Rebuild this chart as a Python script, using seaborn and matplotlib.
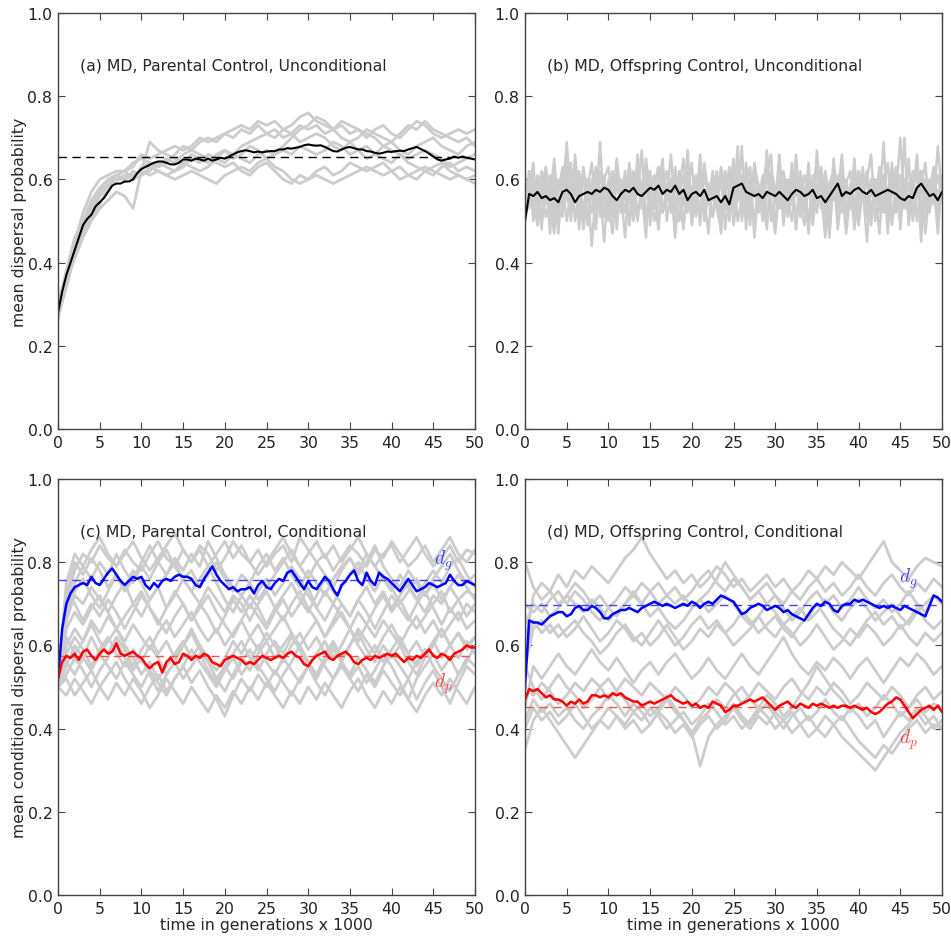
import numpy as np
import pandas as pd
import matplotlib
matplotlib.use("Agg")
import matplotlib.pyplot as plt
import seaborn as sns

# ---- data (time in generations x 1000, 0..50) ----
a_mean = [0.28, 0.33, 0.37, 0.40, 0.43, 0.46, 0.49, 0.505, 0.515, 0.535, 0.545, 0.555, 0.57, 0.585, 0.59, 0.59,
          0.595, 0.595, 0.60, 0.615, 0.625, 0.63, 0.635, 0.64, 0.643, 0.643, 0.64, 0.636, 0.636, 0.64, 0.648,
          0.648, 0.645, 0.65, 0.648, 0.645, 0.65, 0.645, 0.648, 0.652, 0.65, 0.655, 0.66, 0.665, 0.668, 0.67,
          0.668, 0.665, 0.667, 0.665, 0.667, 0.668, 0.668, 0.672, 0.672, 0.675, 0.674, 0.676, 0.678, 0.682,
          0.684, 0.682, 0.681, 0.682, 0.678, 0.673, 0.668, 0.667, 0.672, 0.676, 0.678, 0.675, 0.672, 0.672,
          0.668, 0.667, 0.664, 0.662, 0.664, 0.667, 0.666, 0.668, 0.669, 0.668, 0.672, 0.675, 0.678, 0.673,
          0.668, 0.662, 0.655, 0.648, 0.645, 0.648, 0.65, 0.655, 0.652, 0.655, 0.652, 0.65, 0.648]
a_reps = [
    [0.28, 0.38, 0.45, 0.52, 0.57, 0.60, 0.61, 0.62, 0.62, 0.63, 0.66, 0.65, 0.66, 0.67, 0.68, 0.67, 0.68, 0.70, 0.69, 0.70, 0.71, 0.72, 0.73, 0.72, 0.74, 0.73, 0.74, 0.72, 0.73, 0.75, 0.76, 0.74, 0.73, 0.72, 0.73, 0.71, 0.72, 0.70, 0.72, 0.73, 0.71, 0.70, 0.72, 0.74, 0.73, 0.71, 0.70, 0.71, 0.72, 0.71, 0.72],
    [0.27, 0.35, 0.41, 0.46, 0.50, 0.53, 0.55, 0.57, 0.56, 0.53, 0.62, 0.69, 0.67, 0.66, 0.65, 0.64, 0.66, 0.65, 0.64, 0.66, 0.67, 0.66, 0.68, 0.69, 0.70, 0.71, 0.70, 0.72, 0.71, 0.73, 0.72, 0.73, 0.71, 0.72, 0.74, 0.73, 0.72, 0.71, 0.70, 0.68, 0.67, 0.66, 0.65, 0.66, 0.67, 0.66, 0.65, 0.63, 0.64, 0.65, 0.66],
    [0.26, 0.36, 0.43, 0.49, 0.53, 0.56, 0.59, 0.60, 0.60, 0.61, 0.62, 0.61, 0.62, 0.61, 0.60, 0.61, 0.62, 0.61, 0.60, 0.59, 0.61, 0.62, 0.63, 0.62, 0.64, 0.65, 0.63, 0.62, 0.60, 0.59, 0.60, 0.61, 0.60, 0.59, 0.60, 0.61, 0.62, 0.63, 0.62, 0.61, 0.62, 0.60, 0.61, 0.62, 0.63, 0.62, 0.61, 0.60, 0.61, 0.60, 0.59],
    [0.30, 0.38, 0.46, 0.50, 0.55, 0.58, 0.60, 0.61, 0.62, 0.60, 0.63, 0.64, 0.63, 0.65, 0.64, 0.66, 0.67, 0.66, 0.65, 0.64, 0.63, 0.64, 0.62, 0.61, 0.63, 0.64, 0.62, 0.60, 0.59, 0.61, 0.60, 0.62, 0.63, 0.61, 0.62, 0.64, 0.63, 0.62, 0.63, 0.64, 0.62, 0.63, 0.61, 0.60, 0.62, 0.61, 0.63, 0.64, 0.62, 0.63, 0.62],
    [0.29, 0.37, 0.44, 0.48, 0.52, 0.56, 0.59, 0.61, 0.62, 0.64, 0.65, 0.64, 0.63, 0.64, 0.66, 0.68, 0.67, 0.69, 0.70, 0.69, 0.71, 0.70, 0.72, 0.71, 0.73, 0.71, 0.72, 0.70, 0.71, 0.69, 0.70, 0.71, 0.70, 0.68, 0.67, 0.69, 0.70, 0.72, 0.71, 0.70, 0.69, 0.71, 0.73, 0.72, 0.74, 0.72, 0.71, 0.70, 0.69, 0.70, 0.68],
    [0.27, 0.34, 0.42, 0.47, 0.51, 0.54, 0.58, 0.60, 0.61, 0.60, 0.61, 0.62, 0.64, 0.63, 0.62, 0.64, 0.63, 0.62, 0.63, 0.65, 0.64, 0.66, 0.65, 0.64, 0.66, 0.67, 0.66, 0.68, 0.70, 0.72, 0.73, 0.75, 0.74, 0.72, 0.70, 0.69, 0.67, 0.68, 0.66, 0.65, 0.64, 0.66, 0.64, 0.63, 0.62, 0.63, 0.64, 0.62, 0.61, 0.60, 0.61],
    [0.28, 0.36, 0.44, 0.50, 0.54, 0.57, 0.60, 0.61, 0.60, 0.62, 0.61, 0.63, 0.62, 0.61, 0.62, 0.63, 0.65, 0.64, 0.66, 0.65, 0.67, 0.65, 0.66, 0.68, 0.67, 0.65, 0.66, 0.67, 0.66, 0.68, 0.67, 0.66, 0.67, 0.69, 0.68, 0.66, 0.67, 0.65, 0.66, 0.68, 0.69, 0.67, 0.66, 0.68, 0.69, 0.70, 0.68, 0.67, 0.66, 0.68, 0.69],
]
a_eq = 0.655

b_mean = [0.50, 0.565, 0.56, 0.57, 0.555, 0.56, 0.55, 0.555, 0.545, 0.57, 0.575, 0.565, 0.545, 0.56, 0.565, 0.57,
          0.565, 0.575, 0.57, 0.58, 0.575, 0.56, 0.55, 0.565, 0.575, 0.57, 0.58, 0.565, 0.56, 0.57, 0.58, 0.575,
          0.585, 0.565, 0.575, 0.57, 0.585, 0.565, 0.575, 0.55, 0.565, 0.57, 0.56, 0.575, 0.55, 0.555, 0.56,
          0.545, 0.56, 0.54, 0.58, 0.585, 0.59, 0.57, 0.565, 0.56, 0.565, 0.555, 0.57, 0.565, 0.56, 0.57, 0.56,
          0.55, 0.565, 0.575, 0.57, 0.56, 0.565, 0.575, 0.555, 0.56, 0.545, 0.56, 0.575, 0.59, 0.56, 0.57, 0.565,
          0.575, 0.58, 0.57, 0.565, 0.575, 0.56, 0.565, 0.57, 0.575, 0.57, 0.565, 0.555, 0.55, 0.56, 0.555, 0.58,
          0.59, 0.575, 0.56, 0.565, 0.55, 0.57]
b_reps = [
    [0.55, 0.62, 0.50, 0.60, 0.48, 0.63, 0.52, 0.58, 0.47, 0.61, 0.55, 0.64, 0.50, 0.57, 0.62, 0.49, 0.60, 0.53, 0.69, 0.51, 0.58, 0.62, 0.48, 0.60, 0.55, 0.63, 0.50, 0.61, 0.57, 0.46, 0.62, 0.54, 0.59, 0.65, 0.50, 0.58, 0.52, 0.62, 0.49, 0.57, 0.64, 0.51, 0.60, 0.55, 0.47, 0.61, 0.53, 0.63, 0.58, 0.50, 0.62, 0.55, 0.68, 0.48, 0.57, 0.61, 0.52, 0.59, 0.64, 0.50, 0.56, 0.62, 0.49, 0.60, 0.54, 0.66, 0.51, 0.58, 0.47, 0.61, 0.55, 0.63, 0.52, 0.59, 0.62, 0.48, 0.57, 0.60, 0.53, 0.65, 0.50, 0.58, 0.62, 0.49, 0.60, 0.55, 0.69, 0.51, 0.57, 0.63, 0.48, 0.60, 0.54, 0.62, 0.50, 0.58, 0.64, 0.52, 0.59, 0.47, 0.61],
    [0.52, 0.58, 0.64, 0.49, 0.56, 0.61, 0.47, 0.62, 0.55, 0.51, 0.66, 0.53, 0.60, 0.48, 0.63, 0.56, 0.52, 0.61, 0.57, 0.45, 0.60, 0.54, 0.65, 0.52, 0.59, 0.49, 0.62, 0.56, 0.67, 0.50, 0.57, 0.61, 0.48, 0.63, 0.55, 0.60, 0.46, 0.58, 0.65, 0.52, 0.57, 0.61, 0.49, 0.64, 0.56, 0.51, 0.60, 0.47, 0.62, 0.57, 0.53, 0.68, 0.50, 0.59, 0.63, 0.46, 0.58, 0.54, 0.61, 0.66, 0.49, 0.57, 0.60, 0.52, 0.64, 0.48, 0.59, 0.55, 0.62, 0.50, 0.67, 0.53, 0.58, 0.46, 0.61, 0.56, 0.63, 0.51, 0.59, 0.48, 0.62, 0.55, 0.60, 0.66, 0.50, 0.57, 0.61, 0.47, 0.63, 0.56, 0.52, 0.70, 0.49, 0.58, 0.62, 0.45, 0.60, 0.55, 0.63, 0.51, 0.58],
    [0.50, 0.56, 0.53, 0.61, 0.58, 0.51, 0.55, 0.65, 0.53, 0.59, 0.50, 0.57, 0.62, 0.54, 0.49, 0.60, 0.56, 0.63, 0.51, 0.58, 0.55, 0.47, 0.61, 0.57, 0.52, 0.64, 0.56, 0.50, 0.59, 0.62, 0.53, 0.57, 0.48, 0.61, 0.55, 0.66, 0.52, 0.58, 0.54, 0.61, 0.49, 0.56, 0.63, 0.53, 0.59, 0.51, 0.57, 0.62, 0.48, 0.58, 0.55, 0.61, 0.52, 0.64, 0.56, 0.50, 0.59, 0.55, 0.48, 0.62, 0.57, 0.53, 0.60, 0.51, 0.56, 0.63, 0.54, 0.49, 0.59, 0.57, 0.52, 0.61, 0.56, 0.50, 0.65, 0.55, 0.52, 0.59, 0.62, 0.54, 0.49, 0.58, 0.60, 0.53, 0.57, 0.47, 0.61, 0.55, 0.64, 0.52, 0.57, 0.60, 0.51, 0.56, 0.66, 0.53, 0.49, 0.59, 0.56, 0.61, 0.55],
    [0.54, 0.60, 0.57, 0.52, 0.59, 0.55, 0.61, 0.50, 0.57, 0.63, 0.56, 0.52, 0.59, 0.55, 0.61, 0.58, 0.44, 0.57, 0.52, 0.60, 0.63, 0.55, 0.51, 0.58, 0.60, 0.56, 0.52, 0.62, 0.55, 0.59, 0.51, 0.57, 0.63, 0.52, 0.58, 0.55, 0.60, 0.50, 0.57, 0.62, 0.54, 0.58, 0.52, 0.61, 0.56, 0.59, 0.54, 0.60, 0.57, 0.51, 0.59, 0.62, 0.55, 0.52, 0.60, 0.57, 0.54, 0.61, 0.50, 0.58, 0.55, 0.62, 0.57, 0.53, 0.59, 0.56, 0.61, 0.52, 0.58, 0.55, 0.62, 0.57, 0.46, 0.59, 0.55, 0.61, 0.53, 0.58, 0.56, 0.63, 0.52, 0.59, 0.55, 0.60, 0.57, 0.52, 0.61, 0.56, 0.58, 0.54, 0.61, 0.57, 0.52, 0.59, 0.56, 0.62, 0.53, 0.58, 0.60, 0.55, 0.57],
    [0.57, 0.53, 0.59, 0.56, 0.62, 0.54, 0.58, 0.52, 0.60, 0.56, 0.69, 0.55, 0.61, 0.57, 0.53, 0.59, 0.55, 0.62, 0.54, 0.58, 0.56, 0.60, 0.53, 0.57, 0.61, 0.55, 0.59, 0.52, 0.58, 0.60, 0.56, 0.53, 0.59, 0.57, 0.62, 0.54, 0.58, 0.56, 0.61, 0.53, 0.58, 0.55, 0.60, 0.57, 0.54, 0.62, 0.56, 0.59, 0.53, 0.57, 0.61, 0.55, 0.58, 0.54, 0.60, 0.57, 0.53, 0.59, 0.56, 0.62, 0.58, 0.53, 0.57, 0.60, 0.55, 0.58, 0.54, 0.61, 0.57, 0.53, 0.59, 0.56, 0.62, 0.55, 0.58, 0.52, 0.60, 0.57, 0.54, 0.59, 0.56, 0.61, 0.54, 0.58, 0.55, 0.60, 0.53, 0.57, 0.61, 0.56, 0.70, 0.55, 0.59, 0.53, 0.57, 0.62, 0.56, 0.54, 0.59, 0.57, 0.58],
    [0.53, 0.60, 0.55, 0.49, 0.58, 0.63, 0.54, 0.47, 0.59, 0.56, 0.61, 0.50, 0.66, 0.55, 0.52, 0.60, 0.57, 0.48, 0.62, 0.55, 0.59, 0.51, 0.64, 0.57, 0.46, 0.60, 0.53, 0.66, 0.55, 0.61, 0.49, 0.58, 0.63, 0.52, 0.56, 0.60, 0.47, 0.59, 0.54, 0.67, 0.51, 0.58, 0.62, 0.50, 0.56, 0.60, 0.53, 0.48, 0.61, 0.57, 0.65, 0.50, 0.55, 0.60, 0.49, 0.63, 0.56, 0.52, 0.67, 0.54, 0.47, 0.59, 0.62, 0.55, 0.50, 0.61, 0.57, 0.53, 0.64, 0.49, 0.58, 0.55, 0.61, 0.47, 0.60, 0.56, 0.66, 0.52, 0.57, 0.50, 0.62, 0.58, 0.45, 0.60, 0.55, 0.63, 0.52, 0.58, 0.49, 0.61, 0.56, 0.53, 0.65, 0.50, 0.58, 0.62, 0.47, 0.57, 0.63, 0.54, 0.60],
    [0.51, 0.57, 0.61, 0.54, 0.50, 0.60, 0.56, 0.63, 0.51, 0.55, 0.59, 0.52, 0.57, 0.62, 0.48, 0.58, 0.64, 0.53, 0.56, 0.61, 0.50, 0.57, 0.59, 0.54, 0.62, 0.49, 0.56, 0.60, 0.53, 0.65, 0.57, 0.50, 0.55, 0.61, 0.58, 0.52, 0.63, 0.56, 0.48, 0.60, 0.57, 0.53, 0.66, 0.52, 0.59, 0.55, 0.62, 0.51, 0.56, 0.63, 0.49, 0.57, 0.61, 0.55, 0.52, 0.64, 0.58, 0.50, 0.56, 0.61, 0.54, 0.66, 0.52, 0.57, 0.60, 0.48, 0.62, 0.56, 0.51, 0.58, 0.64, 0.54, 0.50, 0.57, 0.62, 0.53, 0.59, 0.47, 0.56, 0.61, 0.55, 0.63, 0.51, 0.57, 0.60, 0.53, 0.58, 0.64, 0.50, 0.55, 0.61, 0.56, 0.52, 0.59, 0.63, 0.49, 0.57, 0.60, 0.54, 0.68, 0.56],
]

c_dg_mean = [0.52, 0.64, 0.70, 0.725, 0.74, 0.745, 0.75, 0.745, 0.765, 0.75, 0.745, 0.76, 0.775, 0.785, 0.77, 0.755,
             0.745, 0.755, 0.765, 0.76, 0.765, 0.745, 0.735, 0.75, 0.74, 0.755, 0.76, 0.755, 0.765, 0.77, 0.765,
             0.765, 0.76, 0.745, 0.74, 0.76, 0.775, 0.79, 0.77, 0.755, 0.745, 0.735, 0.74, 0.73, 0.735, 0.735,
             0.74, 0.725, 0.745, 0.755, 0.74, 0.735, 0.75, 0.76, 0.755, 0.775, 0.78, 0.765, 0.75, 0.735, 0.755,
             0.74, 0.735, 0.75, 0.765, 0.755, 0.735, 0.72, 0.745, 0.755, 0.77, 0.78, 0.755, 0.745, 0.775, 0.755,
             0.745, 0.775, 0.765, 0.76, 0.75, 0.74, 0.73, 0.745, 0.76, 0.745, 0.73, 0.735, 0.74, 0.75, 0.745,
             0.74, 0.745, 0.75, 0.77, 0.755, 0.745, 0.745, 0.755, 0.75, 0.745]
c_dp_mean = [0.52, 0.56, 0.575, 0.57, 0.58, 0.565, 0.585, 0.59, 0.575, 0.565, 0.58, 0.59, 0.58, 0.585, 0.605, 0.58,
             0.575, 0.58, 0.585, 0.575, 0.57, 0.555, 0.545, 0.555, 0.56, 0.535, 0.56, 0.57, 0.555, 0.56, 0.58,
             0.575, 0.565, 0.575, 0.57, 0.58, 0.575, 0.56, 0.555, 0.55, 0.565, 0.57, 0.575, 0.57, 0.565, 0.555,
             0.56, 0.555, 0.565, 0.575, 0.57, 0.565, 0.57, 0.575, 0.57, 0.58, 0.585, 0.575, 0.57, 0.555, 0.55,
             0.565, 0.575, 0.58, 0.585, 0.57, 0.565, 0.575, 0.58, 0.585, 0.575, 0.56, 0.555, 0.565, 0.57, 0.565,
             0.575, 0.57, 0.575, 0.58, 0.575, 0.58, 0.57, 0.56, 0.57, 0.565, 0.575, 0.57, 0.58, 0.59, 0.575, 0.57,
             0.58, 0.575, 0.565, 0.58, 0.585, 0.59, 0.60, 0.595, 0.595]
c_dg_reps = [
    [0.50, 0.70, 0.78, 0.82, 0.80, 0.84, 0.81, 0.79, 0.83, 0.80, 0.78, 0.82, 0.85, 0.81, 0.79, 0.83, 0.80, 0.84, 0.82, 0.78, 0.81, 0.85, 0.82, 0.80, 0.83, 0.79, 0.82, 0.84, 0.80, 0.86, 0.83, 0.80, 0.82, 0.78, 0.81, 0.84, 0.82, 0.79, 0.83, 0.81, 0.85, 0.82, 0.79, 0.81, 0.84, 0.80, 0.83, 0.86, 0.82, 0.80, 0.83],
    [0.50, 0.66, 0.72, 0.70, 0.74, 0.71, 0.68, 0.72, 0.75, 0.70, 0.67, 0.71, 0.74, 0.69, 0.72, 0.76, 0.73, 0.70, 0.74, 0.71, 0.68, 0.72, 0.70, 0.66, 0.70, 0.73, 0.69, 0.72, 0.75, 0.71, 0.68, 0.72, 0.76, 0.73, 0.70, 0.67, 0.71, 0.74, 0.70, 0.73, 0.69, 0.72, 0.75, 0.71, 0.68, 0.72, 0.70, 0.74, 0.71, 0.73, 0.72],
    [0.50, 0.68, 0.75, 0.79, 0.76, 0.80, 0.77, 0.82, 0.78, 0.75, 0.79, 0.76, 0.80, 0.83, 0.79, 0.76, 0.78, 0.74, 0.77, 0.80, 0.76, 0.73, 0.77, 0.75, 0.79, 0.82, 0.78, 0.81, 0.77, 0.74, 0.78, 0.75, 0.72, 0.76, 0.79, 0.81, 0.77, 0.80, 0.84, 0.79, 0.76, 0.74, 0.78, 0.75, 0.72, 0.76, 0.79, 0.82, 0.78, 0.75, 0.77],
    [0.50, 0.64, 0.68, 0.65, 0.69, 0.72, 0.68, 0.64, 0.67, 0.70, 0.73, 0.69, 0.66, 0.63, 0.67, 0.70, 0.66, 0.69, 0.72, 0.68, 0.65, 0.62, 0.66, 0.70, 0.67, 0.64, 0.68, 0.71, 0.67, 0.70, 0.74, 0.69, 0.66, 0.70, 0.67, 0.64, 0.68, 0.65, 0.69, 0.72, 0.68, 0.71, 0.67, 0.64, 0.67, 0.70, 0.73, 0.68, 0.71, 0.67, 0.70],
    [0.50, 0.72, 0.80, 0.77, 0.81, 0.78, 0.74, 0.77, 0.73, 0.76, 0.80, 0.84, 0.80, 0.77, 0.81, 0.78, 0.82, 0.79, 0.85, 0.81, 0.77, 0.74, 0.72, 0.75, 0.71, 0.74, 0.77, 0.80, 0.83, 0.79, 0.76, 0.80, 0.77, 0.74, 0.78, 0.81, 0.78, 0.82, 0.79, 0.76, 0.73, 0.77, 0.74, 0.71, 0.75, 0.78, 0.75, 0.79, 0.81, 0.77, 0.74],
    [0.50, 0.67, 0.73, 0.76, 0.72, 0.69, 0.73, 0.77, 0.74, 0.78, 0.75, 0.71, 0.74, 0.77, 0.80, 0.76, 0.73, 0.76, 0.79, 0.75, 0.71, 0.68, 0.72, 0.69, 0.73, 0.76, 0.72, 0.75, 0.79, 0.76, 0.72, 0.69, 0.73, 0.70, 0.74, 0.77, 0.80, 0.76, 0.73, 0.77, 0.74, 0.70, 0.73, 0.76, 0.72, 0.75, 0.71, 0.74, 0.77, 0.74, 0.71],
    [0.50, 0.74, 0.70, 0.66, 0.70, 0.67, 0.71, 0.68, 0.64, 0.68, 0.72, 0.69, 0.65, 0.69, 0.73, 0.70, 0.66, 0.70, 0.67, 0.63, 0.67, 0.71, 0.68, 0.72, 0.69, 0.65, 0.69, 0.66, 0.70, 0.73, 0.69, 0.66, 0.62, 0.66, 0.70, 0.67, 0.71, 0.68, 0.64, 0.68, 0.72, 0.69, 0.66, 0.70, 0.73, 0.69, 0.65, 0.69, 0.66, 0.70, 0.68],
    [0.50, 0.75, 0.82, 0.79, 0.83, 0.86, 0.82, 0.79, 0.82, 0.85, 0.81, 0.78, 0.81, 0.84, 0.87, 0.83, 0.80, 0.83, 0.79, 0.82, 0.85, 0.81, 0.84, 0.80, 0.77, 0.80, 0.83, 0.86, 0.82, 0.79, 0.82, 0.85, 0.81, 0.84, 0.80, 0.83, 0.86, 0.82, 0.79, 0.82, 0.84, 0.80, 0.83, 0.86, 0.82, 0.79, 0.81, 0.84, 0.80, 0.83, 0.82],
]
c_dp_reps = [
    [0.50, 0.55, 0.60, 0.57, 0.62, 0.58, 0.61, 0.64, 0.60, 0.57, 0.53, 0.56, 0.52, 0.55, 0.58, 0.61, 0.57, 0.60, 0.56, 0.52, 0.49, 0.53, 0.57, 0.54, 0.58, 0.61, 0.57, 0.60, 0.63, 0.59, 0.55, 0.58, 0.61, 0.57, 0.60, 0.64, 0.60, 0.57, 0.60, 0.56, 0.59, 0.62, 0.58, 0.55, 0.58, 0.61, 0.57, 0.60, 0.63, 0.60, 0.62],
    [0.50, 0.52, 0.48, 0.51, 0.54, 0.50, 0.53, 0.56, 0.52, 0.49, 0.46, 0.50, 0.53, 0.49, 0.52, 0.55, 0.51, 0.54, 0.50, 0.47, 0.43, 0.48, 0.52, 0.49, 0.53, 0.50, 0.54, 0.51, 0.48, 0.52, 0.55, 0.51, 0.48, 0.52, 0.55, 0.52, 0.49, 0.53, 0.50, 0.54, 0.51, 0.48, 0.52, 0.47, 0.51, 0.54, 0.50, 0.46, 0.51, 0.55, 0.53],
    [0.50, 0.60, 0.64, 0.61, 0.66, 0.63, 0.67, 0.64, 0.61, 0.65, 0.62, 0.59, 0.63, 0.66, 0.62, 0.65, 0.68, 0.64, 0.61, 0.64, 0.60, 0.63, 0.66, 0.62, 0.65, 0.61, 0.64, 0.67, 0.63, 0.60, 0.63, 0.66, 0.62, 0.65, 0.68, 0.64, 0.61, 0.65, 0.62, 0.66, 0.63, 0.60, 0.64, 0.67, 0.63, 0.66, 0.62, 0.65, 0.68, 0.64, 0.66],
    [0.50, 0.56, 0.53, 0.57, 0.54, 0.58, 0.55, 0.52, 0.56, 0.53, 0.50, 0.54, 0.51, 0.48, 0.52, 0.55, 0.59, 0.56, 0.53, 0.50, 0.54, 0.57, 0.53, 0.56, 0.60, 0.56, 0.53, 0.57, 0.54, 0.51, 0.55, 0.58, 0.55, 0.52, 0.56, 0.53, 0.57, 0.54, 0.51, 0.55, 0.58, 0.55, 0.52, 0.56, 0.59, 0.55, 0.52, 0.49, 0.53, 0.57, 0.55],
    [0.50, 0.58, 0.62, 0.59, 0.55, 0.59, 0.62, 0.58, 0.55, 0.59, 0.56, 0.60, 0.57, 0.53, 0.56, 0.60, 0.63, 0.59, 0.56, 0.52, 0.55, 0.58, 0.61, 0.57, 0.54, 0.58, 0.61, 0.58, 0.62, 0.59, 0.56, 0.52, 0.56, 0.59, 0.56, 0.60, 0.63, 0.59, 0.56, 0.60, 0.57, 0.60, 0.56, 0.53, 0.57, 0.60, 0.64, 0.60, 0.57, 0.61, 0.58],
    [0.50, 0.53, 0.57, 0.54, 0.50, 0.54, 0.57, 0.61, 0.57, 0.54, 0.57, 0.53, 0.49, 0.53, 0.56, 0.52, 0.55, 0.58, 0.54, 0.51, 0.55, 0.52, 0.56, 0.59, 0.55, 0.52, 0.49, 0.53, 0.56, 0.60, 0.56, 0.53, 0.57, 0.60, 0.56, 0.52, 0.55, 0.51, 0.54, 0.58, 0.55, 0.51, 0.47, 0.52, 0.55, 0.58, 0.54, 0.57, 0.53, 0.56, 0.60],
    [0.50, 0.62, 0.58, 0.61, 0.65, 0.61, 0.58, 0.62, 0.59, 0.55, 0.59, 0.62, 0.58, 0.61, 0.57, 0.60, 0.64, 0.60, 0.57, 0.54, 0.57, 0.61, 0.58, 0.62, 0.59, 0.63, 0.60, 0.56, 0.60, 0.63, 0.59, 0.62, 0.58, 0.61, 0.57, 0.60, 0.64, 0.61, 0.58, 0.62, 0.65, 0.61, 0.58, 0.61, 0.57, 0.61, 0.64, 0.60, 0.63, 0.59, 0.62],
    [0.50, 0.48, 0.52, 0.49, 0.46, 0.50, 0.47, 0.51, 0.48, 0.52, 0.49, 0.45, 0.48, 0.52, 0.49, 0.46, 0.50, 0.47, 0.44, 0.48, 0.45, 0.49, 0.46, 0.50, 0.47, 0.51, 0.48, 0.45, 0.49, 0.46, 0.50, 0.47, 0.51, 0.48, 0.45, 0.49, 0.52, 0.48, 0.45, 0.49, 0.46, 0.50, 0.47, 0.44, 0.48, 0.51, 0.48, 0.52, 0.49, 0.46, 0.50],
]
c_dg_eq, c_dp_eq = 0.757, 0.575

d_dg_mean = [0.50, 0.66, 0.655, 0.655, 0.65, 0.66, 0.67, 0.675, 0.68, 0.68, 0.67, 0.675, 0.69, 0.695, 0.685, 0.685,
             0.695, 0.69, 0.68, 0.665, 0.665, 0.675, 0.68, 0.685, 0.685, 0.69, 0.685, 0.68, 0.69, 0.695, 0.70,
             0.705, 0.70, 0.695, 0.70, 0.695, 0.69, 0.695, 0.70, 0.695, 0.705, 0.70, 0.69, 0.70, 0.705, 0.70, 0.71,
             0.72, 0.715, 0.71, 0.705, 0.69, 0.675, 0.68, 0.69, 0.695, 0.70, 0.695, 0.685, 0.69, 0.695, 0.69, 0.68,
             0.685, 0.675, 0.67, 0.665, 0.66, 0.675, 0.69, 0.70, 0.695, 0.705, 0.70, 0.685, 0.68, 0.695, 0.70, 0.70,
             0.71, 0.705, 0.71, 0.705, 0.70, 0.695, 0.69, 0.695, 0.69, 0.695, 0.69, 0.685, 0.695, 0.69, 0.685, 0.68,
             0.675, 0.67, 0.695, 0.72, 0.715, 0.705]
d_dp_mean = [0.47, 0.495, 0.49, 0.495, 0.485, 0.475, 0.48, 0.47, 0.47, 0.465, 0.455, 0.465, 0.46, 0.47, 0.46, 0.465,
             0.48, 0.48, 0.475, 0.48, 0.475, 0.485, 0.48, 0.485, 0.475, 0.47, 0.465, 0.465, 0.455, 0.46, 0.465,
             0.46, 0.465, 0.47, 0.475, 0.48, 0.47, 0.465, 0.46, 0.465, 0.455, 0.46, 0.45, 0.455, 0.45, 0.465, 0.46,
             0.455, 0.44, 0.445, 0.455, 0.455, 0.46, 0.465, 0.47, 0.465, 0.47, 0.475, 0.465, 0.455, 0.445, 0.455,
             0.46, 0.465, 0.455, 0.45, 0.46, 0.455, 0.45, 0.46, 0.455, 0.46, 0.455, 0.45, 0.455, 0.45, 0.455, 0.455,
             0.45, 0.455, 0.45, 0.445, 0.45, 0.44, 0.435, 0.44, 0.45, 0.46, 0.465, 0.475, 0.47, 0.455, 0.44, 0.425,
             0.435, 0.445, 0.45, 0.455, 0.445, 0.455, 0.44]
d_dg_reps = [
    [0.60, 0.72, 0.75, 0.73, 0.77, 0.74, 0.78, 0.76, 0.79, 0.77, 0.75, 0.78, 0.81, 0.83, 0.86, 0.82, 0.79, 0.76, 0.78, 0.75, 0.77, 0.74, 0.76, 0.79, 0.77, 0.74, 0.76, 0.73, 0.75, 0.77, 0.74, 0.76, 0.73, 0.75, 0.78, 0.76, 0.79, 0.77, 0.80, 0.78, 0.76, 0.79, 0.82, 0.85, 0.80, 0.78, 0.76, 0.79, 0.81, 0.80, 0.79],
    [0.80, 0.74, 0.71, 0.73, 0.70, 0.72, 0.75, 0.73, 0.70, 0.72, 0.69, 0.71, 0.74, 0.72, 0.75, 0.73, 0.70, 0.72, 0.74, 0.71, 0.73, 0.76, 0.78, 0.75, 0.73, 0.76, 0.74, 0.71, 0.73, 0.75, 0.72, 0.70, 0.73, 0.71, 0.74, 0.76, 0.73, 0.75, 0.72, 0.74, 0.77, 0.74, 0.72, 0.75, 0.77, 0.74, 0.72, 0.75, 0.73, 0.76, 0.74],
    [0.55, 0.64, 0.66, 0.63, 0.65, 0.62, 0.64, 0.67, 0.64, 0.61, 0.63, 0.66, 0.64, 0.61, 0.63, 0.60, 0.62, 0.65, 0.62, 0.59, 0.61, 0.64, 0.62, 0.65, 0.63, 0.60, 0.62, 0.64, 0.67, 0.64, 0.62, 0.65, 0.63, 0.60, 0.62, 0.65, 0.62, 0.59, 0.61, 0.64, 0.62, 0.65, 0.63, 0.60, 0.62, 0.65, 0.62, 0.60, 0.63, 0.61, 0.63],
    [0.70, 0.68, 0.70, 0.67, 0.69, 0.72, 0.70, 0.68, 0.71, 0.69, 0.66, 0.68, 0.70, 0.73, 0.70, 0.67, 0.69, 0.66, 0.64, 0.66, 0.69, 0.71, 0.68, 0.70, 0.72, 0.70, 0.67, 0.65, 0.67, 0.70, 0.68, 0.65, 0.67, 0.69, 0.66, 0.68, 0.71, 0.68, 0.66, 0.69, 0.71, 0.69, 0.66, 0.68, 0.70, 0.67, 0.65, 0.68, 0.70, 0.72, 0.70],
    [0.65, 0.70, 0.68, 0.71, 0.73, 0.70, 0.73, 0.71, 0.68, 0.66, 0.69, 0.67, 0.70, 0.72, 0.70, 0.73, 0.75, 0.72, 0.70, 0.72, 0.69, 0.71, 0.73, 0.76, 0.80, 0.77, 0.74, 0.71, 0.73, 0.70, 0.72, 0.69, 0.66, 0.68, 0.71, 0.73, 0.70, 0.72, 0.69, 0.71, 0.74, 0.71, 0.69, 0.71, 0.68, 0.70, 0.73, 0.70, 0.68, 0.72, 0.70],
    [0.58, 0.66, 0.63, 0.65, 0.62, 0.64, 0.66, 0.63, 0.61, 0.58, 0.60, 0.63, 0.65, 0.62, 0.60, 0.63, 0.66, 0.63, 0.60, 0.62, 0.65, 0.67, 0.64, 0.66, 0.63, 0.65, 0.68, 0.66, 0.63, 0.65, 0.67, 0.64, 0.62, 0.65, 0.67, 0.70, 0.67, 0.64, 0.62, 0.60, 0.63, 0.66, 0.68, 0.65, 0.67, 0.64, 0.66, 0.69, 0.66, 0.64, 0.66],
]
d_dp_reps = [
    [0.45, 0.55, 0.52, 0.55, 0.58, 0.55, 0.53, 0.56, 0.59, 0.56, 0.54, 0.57, 0.54, 0.51, 0.54, 0.56, 0.53, 0.56, 0.58, 0.55, 0.52, 0.54, 0.57, 0.54, 0.52, 0.55, 0.58, 0.55, 0.53, 0.56, 0.59, 0.62, 0.58, 0.55, 0.53, 0.56, 0.54, 0.57, 0.55, 0.52, 0.55, 0.57, 0.54, 0.51, 0.54, 0.57, 0.55, 0.58, 0.56, 0.53, 0.55],
    [0.40, 0.45, 0.42, 0.44, 0.41, 0.43, 0.46, 0.43, 0.40, 0.42, 0.45, 0.43, 0.40, 0.42, 0.39, 0.41, 0.44, 0.42, 0.39, 0.41, 0.38, 0.41, 0.43, 0.40, 0.42, 0.45, 0.42, 0.40, 0.43, 0.41, 0.44, 0.42, 0.39, 0.41, 0.43, 0.40, 0.38, 0.41, 0.43, 0.40, 0.37, 0.35, 0.33, 0.36, 0.34, 0.37, 0.40, 0.42, 0.39, 0.41, 0.40],
    [0.35, 0.42, 0.45, 0.42, 0.39, 0.36, 0.33, 0.36, 0.39, 0.42, 0.40, 0.43, 0.41, 0.44, 0.42, 0.45, 0.43, 0.40, 0.42, 0.44, 0.41, 0.43, 0.46, 0.44, 0.41, 0.43, 0.40, 0.42, 0.45, 0.43, 0.40, 0.42, 0.44, 0.41, 0.38, 0.40, 0.43, 0.41, 0.38, 0.36, 0.34, 0.32, 0.30, 0.33, 0.36, 0.39, 0.41, 0.44, 0.41, 0.43, 0.40],
    [0.50, 0.48, 0.51, 0.49, 0.46, 0.48, 0.51, 0.49, 0.52, 0.50, 0.47, 0.49, 0.52, 0.50, 0.48, 0.51, 0.49, 0.47, 0.50, 0.48, 0.45, 0.47, 0.50, 0.48, 0.51, 0.49, 0.46, 0.48, 0.51, 0.49, 0.47, 0.50, 0.52, 0.49, 0.47, 0.50, 0.48, 0.51, 0.49, 0.46, 0.48, 0.51, 0.49, 0.47, 0.50, 0.48, 0.45, 0.48, 0.50, 0.47, 0.49],
    [0.55, 0.50, 0.47, 0.50, 0.53, 0.50, 0.48, 0.45, 0.47, 0.50, 0.52, 0.49, 0.47, 0.44, 0.46, 0.43, 0.45, 0.48, 0.45, 0.42, 0.39, 0.42, 0.44, 0.47, 0.45, 0.48, 0.50, 0.47, 0.45, 0.48, 0.46, 0.43, 0.45, 0.48, 0.51, 0.55, 0.52, 0.49, 0.47, 0.44, 0.46, 0.43, 0.45, 0.48, 0.46, 0.43, 0.45, 0.47, 0.44, 0.46, 0.45],
    [0.42, 0.47, 0.44, 0.46, 0.43, 0.45, 0.42, 0.40, 0.43, 0.45, 0.48, 0.46, 0.43, 0.46, 0.44, 0.41, 0.44, 0.47, 0.44, 0.42, 0.39, 0.31, 0.38, 0.41, 0.43, 0.46, 0.43, 0.41, 0.44, 0.46, 0.43, 0.40, 0.43, 0.45, 0.42, 0.44, 0.47, 0.44, 0.42, 0.45, 0.43, 0.40, 0.42, 0.38, 0.41, 0.44, 0.42, 0.45, 0.43, 0.40, 0.42],
]
d_dg_eq, d_dp_eq = 0.697, 0.453

titles = ["(a) MD, Parental Control, Unconditional", "(b) MD, Offspring Control, Unconditional",
          "(c) MD, Parental Control, Conditional", "(d) MD, Offspring Control, Conditional"]

GRAY = "#cccccc"
FS = 11.3

sns.set_style("ticks")
plt.rcParams.update({
    "font.family": ["DejaVu Sans"],
    "xtick.direction": "in", "ytick.direction": "in",
    "xtick.top": True, "ytick.right": True,
    "xtick.major.size": 5, "ytick.major.size": 5,
    "xtick.major.pad": 4, "ytick.major.pad": 4,
    "axes.edgecolor": "#444444", "axes.linewidth": 1.0,
    "xtick.color": "#444444", "ytick.color": "#444444",
    "xtick.labelcolor": "#222222", "ytick.labelcolor": "#222222",
    "xtick.labelsize": FS, "ytick.labelsize": FS,
})


def series(vals, rep=0):
    return pd.DataFrame({"t": np.linspace(0, 50, len(vals)), "v": vals, "rep": rep})


def reps_df(reps):
    return pd.concat([series(r, i) for i, r in enumerate(reps)], ignore_index=True)


def draw_reps(ax, reps, lw=2.0):
    sns.lineplot(data=reps_df(reps), x="t", y="v", units="rep", estimator=None,
                 color=GRAY, lw=lw, ax=ax, legend=False)


def draw_mean(ax, vals, color, lw=1.6):
    sns.lineplot(data=series(vals), x="t", y="v", color=color, lw=lw, ax=ax, legend=False)


fig = plt.figure(figsize=(9.51, 9.37), dpi=100)
W, H = 417 / 951, 416 / 937
axs = [fig.add_axes([58 / 951, 1 - 430 / 937, W, H]),
       fig.add_axes([525 / 951, 1 - 430 / 937, W, H]),
       fig.add_axes([58 / 951, 1 - 896 / 937, W, H]),
       fig.add_axes([525 / 951, 1 - 896 / 937, W, H])]

# (a)
ax = axs[0]
draw_reps(ax, a_reps)
ax.axhline(a_eq, color="black", lw=1.0, dashes=(6, 4))
draw_mean(ax, a_mean, "black", lw=1.5)

# (b)
ax = axs[1]
draw_reps(ax, b_reps, lw=1.8)
draw_mean(ax, b_mean, "black", lw=1.5)

# (c)
ax = axs[2]
draw_reps(ax, c_dg_reps)
draw_reps(ax, c_dp_reps)
ax.axhline(c_dg_eq, color="#4040ff", lw=1.0, dashes=(6, 4))
ax.axhline(c_dp_eq, color="#ff5050", lw=1.0, dashes=(6, 4))
draw_mean(ax, c_dg_mean, "#0000ff", lw=1.8)
draw_mean(ax, c_dp_mean, "#ff0000", lw=1.8)
ax.text(46.2, 0.805, r"$d_g$", color="#4444ff", fontsize=14, math_fontfamily="cm", ha="center", va="center")
ax.text(46.2, 0.51, r"$d_p$", color="#ff4444", fontsize=14, math_fontfamily="cm", ha="center", va="center")

# (d)
ax = axs[3]
draw_reps(ax, d_dg_reps)
draw_reps(ax, d_dp_reps)
ax.axhline(d_dg_eq, color="#4040ff", lw=1.0, dashes=(6, 4))
ax.axhline(d_dp_eq, color="#ff5050", lw=1.0, dashes=(6, 4))
draw_mean(ax, d_dg_mean, "#0000ff", lw=1.8)
draw_mean(ax, d_dp_mean, "#ff0000", lw=1.8)
ax.text(46.0, 0.762, r"$d_g$", color="#4444ff", fontsize=14, math_fontfamily="cm", ha="center", va="center")
ax.text(46.0, 0.375, r"$d_p$", color="#ff4444", fontsize=14, math_fontfamily="cm", ha="center", va="center")

for i, ax in enumerate(axs):
    ax.set_xlim(0, 50)
    ax.set_ylim(0, 1)
    ax.set_xticks(np.arange(0, 51, 5))
    ax.set_yticks(np.arange(0, 1.01, 0.2))
    ax.set_yticklabels([f"{v:.1f}" for v in np.arange(0, 1.01, 0.2)])
    ax.set_xlabel("")
    ax.set_ylabel("")
    ax.text(0.053, 0.875, titles[i], transform=ax.transAxes, fontsize=FS, va="center", ha="left")

axs[0].set_ylabel("mean dispersal probability", fontsize=FS)
axs[2].set_ylabel("mean conditional dispersal probability", fontsize=FS)
axs[0].yaxis.set_label_coords(-0.074, 0.5)
axs[2].yaxis.set_label_coords(-0.074, 0.5)
axs[2].set_xlabel("time in generations x 1000", fontsize=FS, labelpad=1)
axs[3].set_xlabel("time in generations x 1000", fontsize=FS, labelpad=1)

fig.savefig("out.png", dpi=100)
